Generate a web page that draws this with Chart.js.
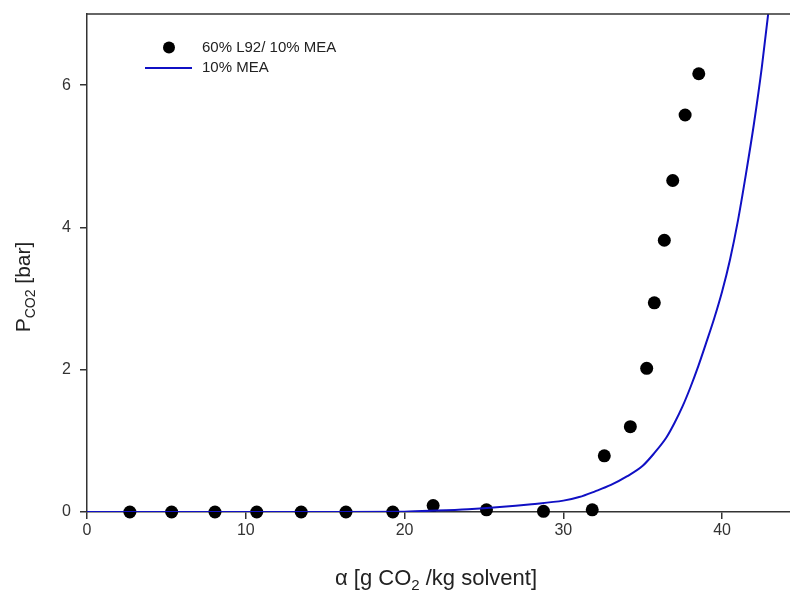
<!DOCTYPE html>
<html>
<head>
<meta charset="utf-8">
<script src="https://cdn.jsdelivr.net/npm/chart.js@4.4.0/dist/chart.umd.min.js"></script>
<style>
  html, body { margin: 0; padding: 0; background: #fff; overflow: hidden; }
  #wrap { width: 790px; height: 599px; overflow: hidden; }
  canvas { display: block; }
</style>
</head>
<body>
<div id="wrap"><canvas id="c" width="808" height="599"></canvas></div>
<script>
// ---- data ----
const seriesNames = ["60% L92/ 10% MEA", "10% MEA"];
const pointsX = [2.7, 5.33, 8.06, 10.69, 13.49, 16.31, 19.26, 21.8, 25.16, 28.75, 31.82, 32.58, 34.22, 35.25, 35.73, 36.36, 36.89, 37.67, 38.53];
const pointsY = [0, 0, 0, 0, 0, 0, 0, 0.09, 0.03, 0.01, 0.03, 0.79, 1.20, 2.02, 2.94, 3.82, 4.66, 5.58, 6.16];
const curveX = [0, 5, 10, 15, 20, 22, 24, 26, 28, 30, 31, 32, 33, 34, 35, 35.7, 36.5, 37, 37.5, 38, 38.5, 39, 39.5, 40, 40.5, 41, 41.5, 42, 42.5, 42.9, 43.2];
const curveY = [0, 0, 0, 0, 0.005, 0.02, 0.04, 0.07, 0.11, 0.16, 0.21, 0.29, 0.38, 0.5, 0.65, 0.82, 1.05, 1.25, 1.48, 1.75, 2.05, 2.38, 2.72, 3.1, 3.55, 4.1, 4.75, 5.45, 6.25, 7.0, 7.6];
const xTicks = [0, 10, 20, 30, 40];
const yTicks = [0, 2, 4, 6];

const FONT = "'Liberation Sans', Arial, sans-serif";
const AXIS_COLOR = '#333333';
const LINE_COLOR = '#1010c4';

const titlesPlugin = {
  id: 'titles',
  afterDraw(chart) {
    const ctx = chart.ctx;
    const a = chart.chartArea;
    ctx.save();
    // top border
    ctx.strokeStyle = AXIS_COLOR;
    ctx.lineWidth = 1.5;
    ctx.beginPath();
    ctx.moveTo(a.left, a.top);
    ctx.lineTo(a.right, a.top);
    ctx.stroke();

    ctx.fillStyle = '#222';
    ctx.textBaseline = 'alphabetic';
    // x title
    const xbig = '22px ' + FONT, xsmall = '15px ' + FONT;
    const parts = [["α [g CO", xbig, 0], ["2", xsmall, 5], [" /kg solvent]", xbig, 0]];
    let w = 0;
    parts.forEach(p => { ctx.font = p[1]; w += ctx.measureText(p[0]).width; });
    let x = 436 - w / 2;
    parts.forEach(p => { ctx.font = p[1]; ctx.fillText(p[0], x, 585 + p[2]); x += ctx.measureText(p[0]).width; });

    // y title (rotated)
    const big = '21px ' + FONT, small = '14px ' + FONT;
    const yparts = [["P", big, 0], ["CO2", small, 5], [" [bar]", big, 0]];
    w = 0;
    yparts.forEach(p => { ctx.font = p[1]; w += ctx.measureText(p[0]).width; });
    ctx.translate(30, 287);
    ctx.rotate(-Math.PI / 2);
    x = -w / 2;
    yparts.forEach(p => { ctx.font = p[1]; ctx.fillText(p[0], x, p[2]); x += ctx.measureText(p[0]).width; });
    ctx.restore();

    // legend
    ctx.save();
    ctx.fillStyle = '#000';
    ctx.beginPath();
    ctx.arc(169, 47.5, 6, 0, Math.PI * 2);
    ctx.fill();
    ctx.strokeStyle = LINE_COLOR;
    ctx.lineWidth = 2;
    ctx.beginPath();
    ctx.moveTo(145, 68);
    ctx.lineTo(192, 68);
    ctx.stroke();
    ctx.fillStyle = '#222';
    ctx.font = '15px ' + FONT;
    ctx.textBaseline = 'middle';
    ctx.fillText(seriesNames[0], 202, 47.5);
    ctx.fillText(seriesNames[1], 202, 68);
    ctx.restore();
  }
};

new Chart(document.getElementById('c'), {
  type: 'scatter',
  data: {
    datasets: [
      {
        label: seriesNames[1],
        type: 'line',
        data: curveX.map((v, i) => ({ x: v, y: curveY[i] })),
        borderColor: LINE_COLOR,
        borderWidth: 2,
        pointRadius: 0,
        fill: false,
        cubicInterpolationMode: 'monotone',
        order: 0
      },
      {
        label: seriesNames[0],
        data: pointsX.map((v, i) => ({ x: v, y: pointsY[i] })),
        backgroundColor: '#000',
        borderColor: '#000',
        pointRadius: 6.5,
        pointBorderWidth: 0,
        clip: false,
        order: 1
      }
    ]
  },
  options: {
    responsive: false,
    animation: false,
    devicePixelRatio: 1,
    layout: { padding: { top: 14, right: 0, left: 0, bottom: 0 } },
    plugins: { legend: { display: false }, tooltip: { enabled: false } },
    scales: {
      x: {
        type: 'linear', min: 0, max: 45,
        afterBuildTicks: ax => { ax.ticks = xTicks.map(v => ({ value: v })); },
        afterFit: ax => { ax.height = 87; ax.paddingLeft = 0; ax.paddingRight = 0; },
        grid: { drawOnChartArea: false, drawTicks: true, tickLength: 7, color: AXIS_COLOR, lineWidth: 1.5 },
        border: { display: true, color: AXIS_COLOR, width: 1.5 },
        ticks: { color: '#333', font: { family: FONT, size: 16 }, padding: 2, maxRotation: 0 }
      },
      y: {
        type: 'linear', min: 0, max: 7,
        afterBuildTicks: ax => { ax.ticks = yTicks.map(v => ({ value: v })); },
        afterFit: ax => { ax.width = 87; ax.paddingTop = 0; ax.paddingBottom = 0; },
        grid: { drawOnChartArea: false, drawTicks: true, tickLength: 7, color: AXIS_COLOR, lineWidth: 1.5 },
        border: { display: true, color: AXIS_COLOR, width: 1.5 },
        ticks: { color: '#333', font: { family: FONT, size: 16 }, padding: 9 }
      }
    }
  },
  plugins: [titlesPlugin]
});
</script>
</body>
</html>
